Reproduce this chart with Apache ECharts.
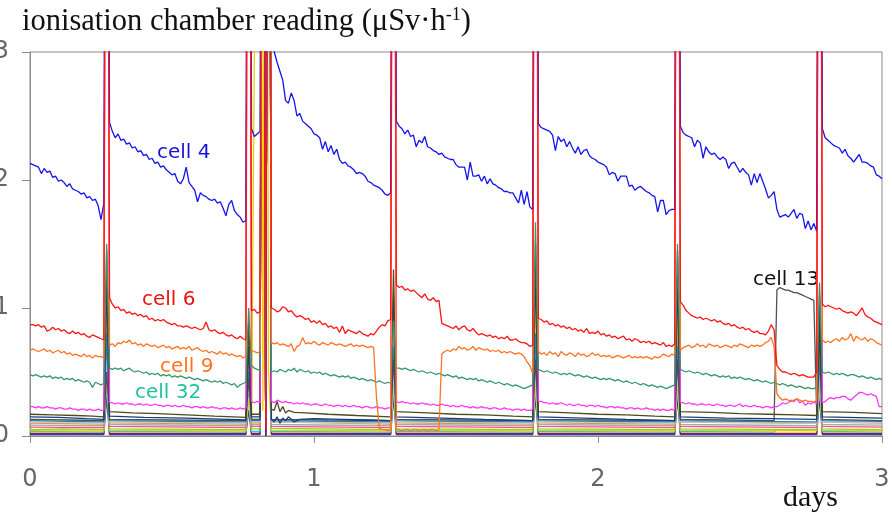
<!DOCTYPE html>
<html>
<head>
<meta charset="utf-8">
<script src="https://cdn.jsdelivr.net/npm/echarts@6/dist/echarts.min.js"></script>
<style>
  html, body { margin: 0; padding: 0; background: #fff; }
  #chart { width: 892px; height: 516px; }
</style>
</head>
<body>
<div id="chart"></div>
<script>
// Readings every 0.01 day from 0 to 3 days (301 samples).
// A value of 9 marks an off-scale excursion during a chamber refill.

const xTicks = [0, 1, 2, 3];
const yTicks = [0, 1, 2, 3];

const cell4 = [
  2.13,2.12,2.11,2.10,2.05,2.09,2.06,2.07,2.02,2.03,1.99,2.00,1.98,1.95,1.97,1.93,1.92,1.91,1.89,1.90,1.86,1.87,1.84,1.85,1.80,1.69,1.82,
  9,
  2.45,2.38,2.33,2.36,2.31,2.32,2.28,2.29,2.25,2.26,2.22,2.23,2.19,2.20,2.16,2.17,2.13,2.14,2.10,2.11,2.08,2.06,2.04,2.05,1.99,
  1.97,2.01,2.10,1.98,1.95,1.92,1.83,1.90,1.88,1.87,1.85,1.84,1.85,1.82,1.83,1.78,1.72,1.81,1.84,1.76,1.73,1.71,1.67,1.68,
  9,
  2.40,2.34,2.36,2.38,9,0.02,9,
  3.3,3.0,2.92,2.85,2.78,2.62,2.60,2.68,2.62,2.50,2.52,2.46,2.44,2.42,2.40,2.36,2.35,2.33,2.24,2.30,2.22,2.27,
  2.20,2.24,2.16,2.13,2.14,2.11,2.10,2.08,2.05,2.06,2.05,2.03,1.99,1.98,1.96,1.95,1.94,1.92,1.89,1.88,1.90,
  9,
  2.46,2.42,2.40,2.36,2.39,2.34,2.35,2.26,2.31,2.29,2.34,2.26,2.25,2.23,2.22,2.20,2.21,2.18,2.17,2.16,2.16,2.12,2.10,2.10,2.10,
  2.00,2.14,2.03,2.03,2.04,1.99,2.03,1.97,2.01,1.97,1.96,1.94,1.93,1.91,1.91,1.90,1.90,1.86,1.82,1.92,1.81,1.91,1.79,1.77,
  9,
  2.44,2.41,2.40,2.39,2.38,2.35,2.23,2.34,2.30,2.32,2.26,2.30,2.25,2.21,2.26,2.20,2.23,2.24,2.19,2.17,2.16,2.14,2.13,2.12,2.10,
  2.04,2.06,2.05,1.99,2.03,2.03,2.03,1.95,1.96,1.92,1.94,1.95,1.93,1.91,1.90,1.88,1.87,1.75,1.84,1.84,1.73,1.76,1.77,1.77,
  9,
  2.42,2.37,2.35,2.34,2.33,2.26,2.31,2.29,2.17,2.26,2.22,2.20,2.21,2.18,2.16,2.18,2.16,2.09,2.13,2.14,2.10,2.06,2.09,2.06,2.04,
  1.96,2.05,1.98,2.05,1.99,1.93,1.86,1.88,1.91,1.77,1.71,1.72,1.73,1.71,1.74,1.77,1.70,1.74,1.73,1.62,1.68,1.61,1.66,1.60,
  9,
  2.40,2.33,2.31,2.29,2.27,2.26,2.25,2.21,2.24,2.19,2.17,2.14,2.17,2.20,2.14,2.14,2.13,2.11,2.10,2.04,2.03,2.01
];

const cell6 = [
  0.87,0.87,0.86,0.87,0.85,0.86,0.82,0.83,0.85,0.83,0.84,0.82,0.83,0.81,0.80,0.82,0.80,0.81,0.79,0.80,0.78,0.77,0.79,0.78,0.77,0.76,0.75,
  9,
  1.08,1.03,1.00,1.01,0.98,0.99,0.96,0.97,0.95,0.96,0.94,0.95,0.93,0.94,0.91,0.92,0.90,0.91,0.90,0.91,0.89,0.88,0.87,0.88,0.86,
  0.86,0.85,0.86,0.85,0.84,0.85,0.84,0.83,0.84,0.89,0.83,0.82,0.83,0.81,0.80,0.81,0.79,0.78,0.79,0.77,0.76,0.78,0.76,0.75,
  9,
  0.98,0.99,0.96,0.97,9,0.05,9,
  1.00,0.99,0.97,0.98,1.01,1.00,0.97,0.98,0.95,0.93,0.94,0.93,0.91,0.92,0.89,0.90,0.88,0.90,0.87,0.88,0.85,0.86,
  0.84,0.85,0.81,0.86,0.80,0.83,0.82,0.81,0.80,0.82,0.80,0.79,0.78,0.80,0.79,0.82,0.85,0.87,0.86,0.90,0.91,
  9,
  1.18,1.16,1.17,1.14,1.15,1.13,1.14,1.12,1.10,1.08,1.11,1.07,1.06,1.08,1.05,1.06,0.88,0.87,0.86,0.85,0.84,0.86,0.83,0.85,0.86,
  0.83,0.82,0.84,0.81,0.79,0.80,0.79,0.78,0.79,0.77,0.78,0.76,0.77,0.76,0.78,0.75,0.75,0.76,0.74,0.73,0.73,0.72,0.70,0.71,
  9,
  0.92,0.91,0.89,0.90,0.87,0.88,0.86,0.87,0.85,0.86,0.84,0.85,0.83,0.84,0.82,0.83,0.81,0.84,0.80,0.81,0.80,0.82,0.79,0.80,0.78,
  0.79,0.77,0.78,0.76,0.77,0.78,0.75,0.76,0.74,0.76,0.75,0.73,0.74,0.73,0.74,0.72,0.73,0.72,0.71,0.73,0.70,0.71,0.70,0.72,
  9,
  1.05,1.02,0.98,0.96,0.94,0.93,0.92,0.93,0.91,0.92,0.91,0.90,0.91,0.89,0.90,0.88,0.87,0.88,0.86,0.87,0.85,0.84,0.85,0.83,0.84,
  0.82,0.81,0.82,0.80,0.80,0.79,0.82,0.87,0.83,0.55,0.52,0.50,0.50,0.49,0.48,0.49,0.48,0.47,0.48,0.47,0.46,0.46,0.46,0.50,
  9,
  1.03,1.01,1.02,1.01,1.00,0.99,1.00,0.98,0.97,0.96,0.97,0.96,0.94,0.97,1.00,0.95,0.93,0.92,0.90,0.89,0.88,0.87
];

const cell9 = [
  0.67,0.68,0.67,0.66,0.67,0.68,0.66,0.67,0.65,0.66,0.67,0.65,0.66,0.64,0.65,0.63,0.64,0.63,0.62,0.64,0.62,0.63,0.61,0.63,0.62,0.62,0.61,
  9,
  0.71,0.72,0.70,0.73,0.72,0.74,0.73,0.75,0.72,0.73,0.71,0.72,0.70,0.72,0.71,0.70,0.71,0.69,0.70,0.71,0.69,0.70,0.68,0.69,0.70,
  0.68,0.69,0.68,0.70,0.67,0.68,0.69,0.67,0.66,0.67,0.65,0.66,0.65,0.64,0.66,0.64,0.65,0.63,0.64,0.63,0.62,0.63,0.61,0.62,
  9,
  0.67,0.66,0.65,0.66,9,0.02,9,
  0.73,0.72,0.73,0.71,0.72,0.71,0.70,0.72,0.66,0.70,0.71,0.77,0.72,0.73,0.72,0.74,0.72,0.71,0.73,0.72,0.71,0.73,
  0.72,0.71,0.72,0.71,0.70,0.71,0.72,0.70,0.71,0.70,0.71,0.70,0.69,0.70,0.69,0.30,0.06,0.05,0.05,0.04,0.05,
  9,
  0.05,0.05,0.04,0.05,0.05,0.04,0.05,0.05,0.04,0.05,0.05,0.04,0.05,0.05,0.04,0.05,0.64,0.66,0.67,0.66,0.68,0.67,0.70,0.68,0.69,
  0.67,0.68,0.70,0.67,0.69,0.68,0.67,0.68,0.66,0.67,0.66,0.67,0.65,0.66,0.65,0.66,0.65,0.64,0.65,0.64,0.62,0.58,0.55,0.49,
  9,
  0.66,0.64,0.65,0.63,0.66,0.64,0.65,0.62,0.66,0.64,0.63,0.65,0.64,0.62,0.65,0.63,0.64,0.62,0.63,0.65,0.63,0.64,0.62,0.63,0.62,
  0.63,0.61,0.62,0.63,0.62,0.61,0.62,0.63,0.61,0.62,0.61,0.62,0.61,0.62,0.61,0.60,0.62,0.61,0.62,0.64,0.63,0.62,0.64,0.63,
  9,
  0.67,0.69,0.70,0.71,0.69,0.70,0.72,0.70,0.71,0.69,0.72,0.71,0.70,0.71,0.69,0.70,0.71,0.70,0.69,0.71,0.70,0.72,0.71,0.70,0.69,
  0.71,0.70,0.71,0.70,0.71,0.73,0.74,0.77,0.70,0.33,0.30,0.28,0.29,0.28,0.27,0.28,0.29,0.28,0.27,0.28,0.27,0.27,0.26,0.28,
  9,
  0.75,0.73,0.74,0.73,0.75,0.76,0.74,0.77,0.75,0.76,0.80,0.74,0.78,0.76,0.75,0.77,0.74,0.76,0.75,0.73,0.72,0.71
];

const cell32 = [
  0.48,0.47,0.48,0.47,0.46,0.47,0.46,0.47,0.45,0.46,0.45,0.46,0.44,0.45,0.44,0.45,0.43,0.44,0.43,0.42,0.43,0.42,0.38,0.42,0.41,0.40,0.41,
  1.5,
  0.53,0.52,0.53,0.52,0.53,0.51,0.52,0.53,0.51,0.50,0.51,0.50,0.49,0.50,0.48,0.49,0.48,0.49,0.47,0.48,0.47,0.48,0.46,0.47,0.46,
  0.47,0.46,0.45,0.46,0.45,0.44,0.45,0.44,0.43,0.44,0.43,0.42,0.43,0.42,0.43,0.41,0.42,0.41,0.40,0.41,0.38,0.40,0.41,0.42,
  1.0,
  0.55,0.53,0.52,0.51,9,0.02,9,
  0.50,0.51,0.50,0.52,0.51,0.50,0.52,0.51,0.53,0.50,0.52,0.51,0.50,0.51,0.49,0.50,0.49,0.50,0.48,0.49,0.48,0.47,
  0.48,0.47,0.46,0.47,0.46,0.47,0.45,0.46,0.45,0.44,0.45,0.44,0.43,0.44,0.43,0.42,0.43,0.42,0.41,0.42,0.41,
  0.9,
  0.53,0.53,0.52,0.53,0.52,0.51,0.52,0.51,0.50,0.51,0.50,0.49,0.50,0.49,0.48,0.49,0.48,0.47,0.48,0.47,0.46,0.47,0.45,0.46,0.45,
  0.44,0.45,0.44,0.45,0.43,0.44,0.43,0.42,0.43,0.42,0.41,0.42,0.41,0.40,0.41,0.40,0.39,0.40,0.39,0.38,0.37,0.38,0.39,0.40,
  1.67,
  0.52,0.51,0.50,0.51,0.50,0.49,0.50,0.49,0.48,0.49,0.48,0.49,0.48,0.47,0.48,0.47,0.46,0.47,0.46,0.45,0.46,0.45,0.44,0.45,0.44,
  0.45,0.44,0.43,0.44,0.43,0.42,0.43,0.42,0.41,0.42,0.41,0.40,0.41,0.40,0.39,0.40,0.39,0.38,0.39,0.38,0.37,0.38,0.39,0.40,
  1.5,
  0.52,0.51,0.50,0.51,0.50,0.49,0.50,0.49,0.48,0.49,0.48,0.47,0.48,0.47,0.46,0.47,0.46,0.47,0.45,0.46,0.45,0.46,0.45,0.44,0.45,
  0.44,0.43,0.44,0.43,0.42,0.43,0.42,0.41,0.42,0.41,0.40,0.41,0.40,0.39,0.40,0.39,0.38,0.39,0.38,0.37,0.38,0.37,0.37,0.38,
  1.2,
  0.50,0.49,0.50,0.49,0.48,0.49,0.48,0.49,0.48,0.47,0.48,0.48,0.47,0.46,0.47,0.46,0.45,0.46,0.45,0.44,0.45,0.44
];

const magentaCell = [
  0.23,0.23,0.22,0.23,0.22,0.22,0.23,0.22,0.22,0.21,0.22,0.22,0.21,0.21,0.22,0.21,0.21,0.20,0.21,0.21,0.20,0.21,0.20,0.20,0.21,0.20,0.20,
  9,
  0.26,0.26,0.25,0.26,0.25,0.25,0.26,0.25,0.25,0.24,0.25,0.25,0.24,0.25,0.24,0.24,0.25,0.24,0.24,0.23,0.24,0.24,0.23,0.24,0.23,
  0.23,0.24,0.23,0.23,0.22,0.23,0.23,0.22,0.23,0.22,0.22,0.23,0.22,0.22,0.21,0.22,0.22,0.21,0.22,0.21,0.21,0.22,0.21,0.22,
  9,
  0.27,0.26,0.27,0.26,9,0.02,9,
  0.27,0.26,0.28,0.27,0.26,0.27,0.26,0.26,0.25,0.26,0.25,0.26,0.25,0.25,0.24,0.25,0.25,0.24,0.24,0.25,0.24,0.24,
  0.23,0.24,0.24,0.23,0.24,0.23,0.23,0.24,0.23,0.23,0.22,0.23,0.23,0.22,0.22,0.23,0.22,0.22,0.21,0.22,0.22,
  9,
  0.27,0.26,0.27,0.26,0.26,0.25,0.26,0.25,0.25,0.26,0.25,0.25,0.24,0.25,0.24,0.24,0.25,0.24,0.24,0.23,0.24,0.23,0.23,0.24,0.23,
  0.23,0.22,0.23,0.22,0.22,0.23,0.22,0.22,0.21,0.22,0.22,0.21,0.21,0.22,0.21,0.21,0.20,0.21,0.21,0.20,0.21,0.20,0.20,0.21,
  9,
  0.27,0.27,0.26,0.26,0.25,0.26,0.25,0.25,0.26,0.25,0.24,0.25,0.24,0.24,0.25,0.24,0.24,0.23,0.24,0.24,0.23,0.24,0.23,0.23,0.22,
  0.23,0.23,0.22,0.23,0.22,0.22,0.21,0.22,0.22,0.21,0.22,0.21,0.21,0.22,0.21,0.21,0.20,0.21,0.20,0.21,0.20,0.20,0.21,0.20,
  9,
  0.26,0.26,0.25,0.26,0.25,0.25,0.24,0.25,0.25,0.24,0.25,0.24,0.24,0.25,0.24,0.24,0.23,0.24,0.24,0.23,0.24,0.25,0.23,0.24,0.23,
  0.23,0.24,0.23,0.23,0.22,0.23,0.23,0.22,0.23,0.23,0.24,0.26,0.25,0.26,0.28,0.27,0.29,0.26,0.27,0.24,0.26,0.25,0.27,0.25,
  9,
  0.26,0.27,0.29,0.30,0.29,0.30,0.30,0.31,0.31,0.29,0.28,0.30,0.32,0.34,0.34,0.33,0.32,0.33,0.32,0.31,0.23,0.23
];

// Low-level cells, given as [day, reading] pairs
const cell13 = [[0,0.13],[0.14,0.125],[0.26,0.12],[0.27,0.5],[0.28,0.13],[0.5,0.125],[0.76,0.12],[0.77,0.45],[0.78,0.13],[0.81,0.13],[0.82,9],[0.83,0],[0.84,9],[0.85,0.13],[1.05,0.125],[1.27,0.12],[1.28,0.6],[1.29,0.13],[1.5,0.125],[1.77,0.12],[1.78,0.6],[1.79,0.13],[2.0,0.125],[2.27,0.12],[2.28,0.6],[2.29,0.13],[2.45,0.125],[2.62,0.12],[2.63,1.14],[2.64,1.16],[2.65,1.15],[2.66,1.14],[2.67,1.14],[2.68,1.13],[2.69,1.12],[2.70,1.12],[2.71,1.11],[2.72,1.10],[2.73,1.09],[2.74,1.08],[2.75,1.07],[2.76,1.06],[2.77,0.18],[2.78,0.8],[2.79,0.13],[3,0.12]];
const oliveCell = [[0,0.17],[0.08,0.165],[0.16,0.16],[0.22,0.155],[0.26,0.15],[0.27,1.45],[0.28,0.19],[0.36,0.18],[0.45,0.175],[0.55,0.165],[0.65,0.155],[0.76,0.145],[0.77,0.9],[0.78,0.17],[0.81,0.17],[0.82,9],[0.83,0],[0.84,9],[0.85,0.21],[0.86,0.2],[0.87,0.27],[0.88,0.19],[0.89,0.23],[0.9,0.18],[0.91,0.2],[0.93,0.185],[0.97,0.18],[1.05,0.17],[1.15,0.16],[1.27,0.15],[1.28,1.3],[1.29,0.19],[1.4,0.18],[1.5,0.17],[1.6,0.165],[1.7,0.155],[1.77,0.15],[1.78,1.5],[1.79,0.19],[1.9,0.18],[2.0,0.17],[2.1,0.165],[2.2,0.155],[2.27,0.15],[2.28,1.45],[2.29,0.19],[2.4,0.185],[2.5,0.175],[2.6,0.17],[2.7,0.165],[2.77,0.16],[2.78,1.1],[2.79,0.19],[2.9,0.185],[3,0.175]];
const navyCell = [[0,0.15],[0.1,0.145],[0.2,0.135],[0.26,0.13],[0.27,1.2],[0.28,0.155],[0.4,0.145],[0.55,0.14],[0.7,0.13],[0.76,0.125],[0.77,0.7],[0.78,0.15],[0.81,0.15],[0.82,9],[0.83,0],[0.84,9],[0.85,0.13],[0.86,0.11],[0.87,0.15],[0.88,0.1],[0.89,0.14],[0.9,0.12],[0.91,0.15],[0.93,0.11],[0.95,0.13],[1.0,0.135],[1.1,0.13],[1.2,0.125],[1.27,0.12],[1.28,1.1],[1.29,0.15],[1.45,0.14],[1.6,0.13],[1.77,0.12],[1.78,1.3],[1.79,0.15],[1.95,0.14],[2.1,0.13],[2.27,0.12],[2.28,1.2],[2.29,0.15],[2.45,0.14],[2.6,0.135],[2.77,0.13],[2.78,0.9],[2.79,0.15],[3,0.14]];
const steelCell = [[0,0.12],[0.13,0.115],[0.26,0.11],[0.27,0.8],[0.28,0.12],[0.5,0.115],[0.76,0.11],[0.77,0.5],[0.78,0.12],[0.81,0.12],[0.82,9],[0.83,0],[0.84,9],[0.85,0.12],[1.05,0.115],[1.27,0.11],[1.28,0.7],[1.29,0.12],[1.5,0.115],[1.77,0.11],[1.78,0.8],[1.79,0.12],[2.0,0.115],[2.27,0.11],[2.28,0.7],[2.29,0.12],[2.5,0.115],[2.77,0.11],[2.78,0.6],[2.79,0.12],[3,0.115]];
const paleCell = [[0,0.108],[0.26,0.1],[0.27,0.6],[0.28,0.11],[0.76,0.1],[0.77,0.4],[0.78,0.11],[0.81,0.11],[0.82,9],[0.83,0],[0.84,9],[0.85,0.11],[1.27,0.1],[1.28,0.5],[1.29,0.11],[1.77,0.1],[1.78,0.5],[1.79,0.11],[2.27,0.1],[2.28,0.5],[2.29,0.11],[2.77,0.1],[2.78,0.5],[2.79,0.11],[3,0.105]];
const orangeLow = [[0,0.1],[0.26,0.092],[0.27,1.1],[0.28,0.102],[0.76,0.092],[0.77,0.8],[0.78,0.102],[0.81,0.102],[0.82,9],[0.83,0],[0.84,9],[0.85,0.11],[1.27,0.092],[1.28,1.0],[1.29,0.102],[1.77,0.092],[1.78,1.1],[1.79,0.102],[2.27,0.092],[2.28,1.0],[2.29,0.108],[2.77,0.098],[2.78,0.9],[2.79,0.108],[3,0.1]];
const grayCell = [[0,0.085],[0.26,0.08],[0.27,0.8],[0.28,0.09],[0.76,0.08],[0.77,0.5],[0.78,0.09],[0.81,0.09],[0.82,9],[0.83,0],[0.84,9],[0.85,0.09],[1.27,0.08],[1.28,0.6],[1.29,0.09],[1.77,0.08],[1.78,0.7],[1.79,0.09],[2.27,0.08],[2.28,0.7],[2.29,0.09],[2.77,0.08],[2.78,0.6],[2.79,0.09],[3,0.085]];
const pinkCell = [[0,0.07],[0.26,0.065],[0.27,0.9],[0.28,0.075],[0.76,0.065],[0.77,0.6],[0.78,0.075],[0.81,0.075],[0.82,9],[0.83,0],[0.84,9],[0.85,0.075],[1.27,0.065],[1.28,0.8],[1.29,0.075],[1.77,0.065],[1.78,0.8],[1.79,0.075],[2.27,0.065],[2.28,0.8],[2.29,0.075],[2.77,0.065],[2.78,0.7],[2.79,0.075],[3,0.07]];
const limeCell = [[0,0.05],[0.12,0.055],[0.26,0.05],[0.27,0.7],[0.28,0.055],[0.76,0.05],[0.77,0.5],[0.78,0.055],[0.81,0.055],[0.82,9],[0.83,0],[0.84,9],[0.85,0.06],[1.27,0.05],[1.28,0.5],[1.29,0.055],[1.77,0.05],[1.78,0.6],[1.79,0.055],[2.27,0.05],[2.28,0.6],[2.29,0.055],[2.77,0.05],[2.78,0.5],[2.79,0.055],[3,0.05]];
const yellowCell = [[0,0.042],[0.26,0.04],[0.27,0.5],[0.28,0.045],[0.76,0.04],[0.77,0.3],[0.78,0.045],[0.81,9],[0.82,0.2],[0.83,9],[0.84,0.5],[0.85,0.045],[1.27,0.04],[1.28,0.4],[1.29,0.045],[1.77,0.04],[1.78,0.4],[1.79,0.045],[2.27,0.04],[2.28,0.4],[2.29,0.045],[2.77,0.04],[2.78,0.4],[2.79,0.045],[3,0.04]];
const cyanCell = [[0,0.035],[0.26,0.03],[0.27,0.4],[0.28,0.035],[0.76,0.03],[0.77,0.3],[0.78,0.035],[0.81,0.035],[0.82,9],[0.83,0],[0.84,9],[0.85,0.035],[1.27,0.03],[1.28,0.4],[1.29,0.035],[1.77,0.03],[1.78,0.4],[1.79,0.035],[2.27,0.03],[2.28,0.4],[2.29,0.035],[2.62,0.03],[2.63,0.05],[2.7,0.045],[2.77,0.05],[2.78,0.4],[2.79,0.035],[3,0.03]];
const maroonCell = [[0,0.02],[0.26,0.02],[0.27,0.6],[0.28,0.02],[0.76,0.02],[0.77,0.4],[0.78,0.02],[0.81,0.02],[0.82,9],[0.83,0],[0.84,9],[0.85,0.02],[1.27,0.02],[1.28,0.5],[1.29,0.02],[1.77,0.02],[1.78,0.6],[1.79,0.02],[2.27,0.02],[2.28,0.5],[2.29,0.02],[2.77,0.02],[2.78,0.5],[2.79,0.02],[3,0.02]];
const indigoCell = [[0,0.01],[0.26,0.01],[0.27,0.3],[0.28,0.01],[0.76,0.01],[0.77,0.2],[0.78,0.01],[0.81,0.01],[0.82,9],[0.83,0],[0.84,9],[0.85,0.01],[1.27,0.01],[1.28,0.3],[1.29,0.01],[1.77,0.01],[1.78,0.3],[1.79,0.01],[2.27,0.01],[2.28,0.3],[2.29,0.01],[2.77,0.01],[2.78,0.3],[2.79,0.01],[3,0.01]];

// sample times shared by the regularly sampled cells
const days = [];
for (let i = 0; i <= 300; i++) days.push(i / 100);

function onGrid(name, values) {
  if (values.length !== days.length) throw new Error(name + ' has ' + values.length + ' samples');
  return values.map((v, i) => [days[i], v]);
}

function line(name, color, data, width) {
  return {
    name: name, type: 'line', data: data, showSymbol: false, clip: true,
    lineStyle: { color: color, width: width || 1.3 }, itemStyle: { color: color },
    silent: true, animation: false
  };
}

const series = [
  line('indigo', '#4433aa', indigoCell),
  line('maroon', '#9b1b30', maroonCell),
  line('cyan', '#19c8f0', cyanCell),
  line('yellow', '#f0cc00', yellowCell),
  line('lime', '#9ccc14', limeCell),
  line('pink', '#ff4d88', pinkCell),
  line('gray', '#a8a8a8', grayCell),
  line('orange low', '#ff8c1a', orangeLow),
  line('pale', '#a6d4ec', paleCell),
  line('steel', '#2f7fb0', steelCell),
  line('cell 13', '#505050', cell13),
  line('navy', '#153e80', navyCell),
  line('olive', '#4b4b1e', oliveCell),
  line('magenta', '#ff33ff', onGrid('magenta', magentaCell)),
  line('cell 32', '#339966', onGrid('cell32', cell32)),
  line('cell 9', '#ff7420', onGrid('cell9', cell9)),
  line('cell 4', '#1414f0', onGrid('cell4', cell4)),
  line('cell 6', '#ff1414', onGrid('cell6', cell6))
];

const serif = '"Liberation Serif", "Times New Roman", serif';
const labelFont = '20px "DejaVu Sans"';
const chart = echarts.init(document.getElementById('chart'), null, { renderer: 'canvas' });
chart.setOption({
  animation: false,
  backgroundColor: '#ffffff',
  title: {
    left: 17, top: 1,
    text: '{a|ionisation chamber reading (μSv·h}{s|-1}{a|)}',
    textStyle: {
      fontWeight: 'normal',
      rich: {
        a: { fontFamily: serif, fontSize: 30.5, fontWeight: 'normal', color: '#111' },
        s: { fontFamily: serif, fontSize: 18, fontWeight: 'normal', color: '#111', verticalAlign: 'top' }
      }
    }
  },
  grid: {
    left: 30, right: 10, top: 52, bottom: 80,
    containLabel: false, outerBoundsMode: 'none',
    show: true, borderColor: '#8c8c8c', borderWidth: 1
  },
  xAxis: {
    type: 'value', min: xTicks[0], max: xTicks[xTicks.length - 1], interval: 1,
    axisLine: { show: true, lineStyle: { color: '#8c8c8c', width: 1 } },
    axisTick: { show: true, length: 7, lineStyle: { color: '#8c8c8c' } },
    splitLine: { show: false },
    axisLabel: { margin: 32, fontFamily: '"DejaVu Sans"', fontSize: 24, color: '#666' }
  },
  yAxis: {
    type: 'value', min: yTicks[0], max: yTicks[yTicks.length - 1], interval: 1,
    axisLine: { show: true, lineStyle: { color: '#8c8c8c', width: 1 } },
    axisTick: { show: true, length: 8, lineStyle: { color: '#8c8c8c' } },
    splitLine: { show: false },
    axisLabel: { margin: 21, fontFamily: '"DejaVu Sans"', fontSize: 24, color: '#666' }
  },
  series: series,
  graphic: [
    { type: 'text', left: 783, top: 483, style: { text: 'days', font: '30px ' + serif, fill: '#111' } },
    { type: 'text', x: 157, y: 163, style: { text: 'cell 4', font: labelFont, fill: '#1414e0', verticalAlign: 'bottom' } },
    { type: 'text', x: 142, y: 310, style: { text: 'cell 6', font: labelFont, fill: '#ee1111', verticalAlign: 'bottom' } },
    { type: 'text', x: 160, y: 377, style: { text: 'cell 9', font: labelFont, fill: '#ff7420', verticalAlign: 'bottom' } },
    { type: 'text', x: 135, y: 403, style: { text: 'cell 32', font: labelFont, fill: '#1fc49c', verticalAlign: 'bottom' } },
    { type: 'text', x: 753, y: 290, style: { text: 'cell 13', font: labelFont, fill: '#111', verticalAlign: 'bottom' } }
  ]
});
</script>
</body>
</html>
